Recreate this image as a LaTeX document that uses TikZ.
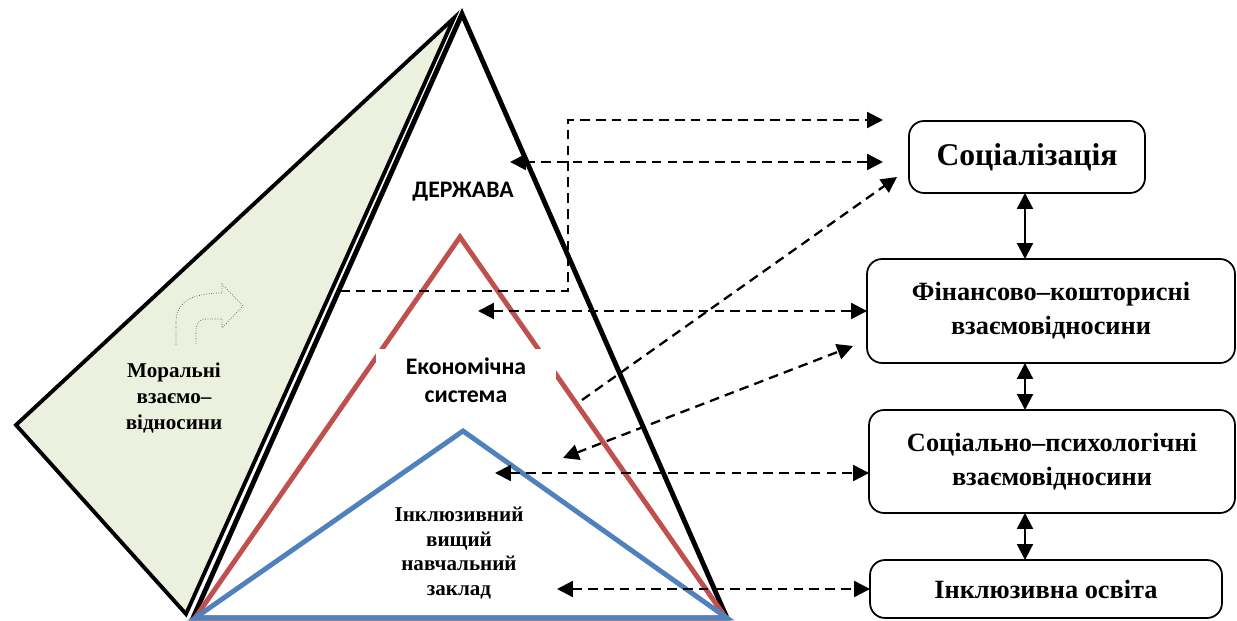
\documentclass[tikz,border=0pt]{standalone}
\usepackage{fontspec}
\setmainfont{Liberation Serif}
\newfontfamily\calibri{Carlito}
\usepackage{tikz}
\usetikzlibrary{arrows.meta, calc}
\definecolor{leaf}{HTML}{EBF1DE}
\definecolor{brick}{HTML}{C0504D}
\definecolor{steel}{HTML}{4F81BD}
\tikzset{
  dlink/.style={line width=1.3pt, dash pattern=on 5.5pt off 3.5pt},
  slink/.style={line width=1.2pt},
  tri/.style={line width=2.8pt},
  box/.style={draw, line width=1pt, rounded corners=0.3cm, outer sep=0pt,
    align=center, font=\bfseries\fontsize{15}{19.5}\selectfont},
}

\begin{document}
\begin{tikzpicture}[x=0.02cm, y=-0.02cm, >={Triangle[length=9pt, width=9pt]}]
        \useasboundingbox (0,0) rectangle (1237,621);
        % triangles
        \filldraw[fill=leaf, line width=2.2pt] (454,18) -- (16,425) -- (186,614) -- cycle; % green wedge
        \draw[tri] (193,618) -- (462,14) -- (727,618) -- cycle;   % outer
        \draw[tri, brick] (195,618) -- (460,237) -- (726,618) -- cycle;
        \draw[tri, steel] (195,618) -- (463,431) -- (727,618) -- cycle;
        % turn arrow
        \draw[densely dotted, line width=0.4pt, black!70]
            (176,345) -- (176,322) .. controls (176,302) and (192,293) .. (222,293)
            -- (222,284) -- (243,306) -- (222,328) -- (222,319) -- (206,319)
            .. controls (199,319) and (196,324) .. (196,331) -- (196,345);
        % labels inside
        \node[font=\calibri\bfseries\fontsize{13.5}{16}\selectfont] (derzh) at (463,192) {ДЕРЖАВА};
        \node[fill=white, minimum width=3.62cm, minimum height=1.24cm, align=center,
            font=\calibri\bfseries\fontsize{13.5}{16}\selectfont] (econ) at (466,380) {Економічна\\система};
        \node[align=center, font=\bfseries\fontsize{12}{14.7}\selectfont] (moral) at (174,398) {Моральні\\взаємо–\\відносини};
        \node[align=center, font=\bfseries\fontsize{12}{14}\selectfont] (vnz) at (459,553) {Інклюзивний\\вищий\\навчальний\\заклад};
        % boxes
        \node[box, minimum width=4.72cm, minimum height=1.44cm,
            font=\bfseries\fontsize{18}{20}\selectfont] (soc) at (1027,157) {Соціалізація};
        \node[box, minimum width=7.36cm, minimum height=2.08cm] (fin) at (1051,311) {Фінансово–кошторисні\\взаємовідносини};
        \node[box, minimum width=7.32cm, minimum height=2.06cm] (psy) at (1052,461.5) {Соціально–психологічні\\взаємовідносини};
        \node[box, minimum width=7.04cm, minimum height=1.16cm] (incl) at (1046,589) {Інклюзивна освіта};
        % solid links
        \coordinate (axis) at (1025,0);
        \draw[slink, <->] (soc.south -| axis) -- (fin.north -| axis);
        \draw[slink, <->] (fin.south -| axis) -- (psy.north -| axis);
        \draw[slink, <->] (psy.south -| axis) -- (incl.north -| axis);
        % dashed links
        \coordinate (m1) at (340,291);
        \coordinate (m1t) at (883,120);
        \draw[dlink, ->] (m1) -| (568,120) -- (m1t);
        \coordinate (d1) at (510,162);
        \coordinate (d1t) at (883,162);
        \draw[dlink, <->] (d1) -- (d1t);
        \coordinate (e1) at (582,400);
        \coordinate (e1t) at (897,177);
        \draw[dlink, ->] (e1) -- (e1t);
        \coordinate (e2) at (478,311);
        \draw[dlink, <->] (e2) -- (fin.west);
        \coordinate (e3) at (563,458);
        \coordinate (e3t) at (853,346);
        \draw[dlink, <->] (e3) -- (e3t);
        \coordinate (v1) at (495,473);
        \draw[dlink, <->] (v1) -- (v1 -| psy.west);
        \coordinate (v2) at (557,589);
        \draw[dlink, <->] (v2) -- (incl.west);
\end{tikzpicture}
\end{document}
